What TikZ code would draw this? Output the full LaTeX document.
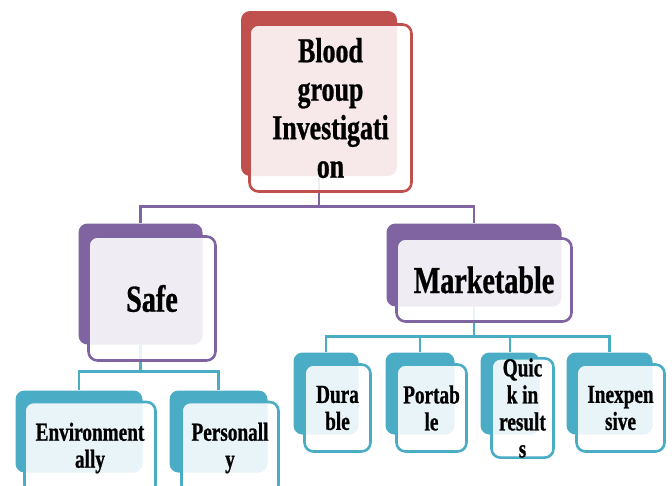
\documentclass[tikz,border=0pt]{standalone}
\usepackage{fontspec}
\setmainfont{Liberation Serif}
\newfontfamily\narrowfont[FakeStretch=0.74,FakeBold=0.8]{Liberation Serif}
\usetikzlibrary{positioning,calc}
\definecolor{hred}{HTML}{C0504D}
\definecolor{hpur}{HTML}{8064A2}
\definecolor{hteal}{HTML}{4BACC6}
\tikzset{
  backbox/.style={rectangle,rounded corners=9pt,inner sep=0pt},
  frontbox/.style={rectangle,rounded corners=9pt,draw,line width=2.6pt,fill=white,fill opacity=0.88,text opacity=1,align=center,inner sep=0pt},
  redback/.style={backbox,fill=hred},
  redfront/.style={frontbox,draw=hred},
  purback/.style={backbox,fill=hpur},
  purfront/.style={frontbox,draw=hpur},
  tealback/.style={backbox,fill=hteal},
  tealfront/.style={frontbox,draw=hteal},
  toptxt/.style={font=\narrowfont\bfseries\fontsize{35}{38.5}\selectfont},
  midtxt/.style={font=\narrowfont\bfseries\fontsize{38}{42}\selectfont},
  lowtxt/.style={font=\narrowfont\bfseries\fontsize{26}{27}\selectfont},
  purline/.style={draw=hpur,line width=2.6pt},
  tealline/.style={draw=hteal,line width=2.6pt}
}

\begin{document}
\begin{tikzpicture}[x=1pt,y=-1pt]
  \useasboundingbox (0,0) rectangle (672,485);
  % Back boxes
  \node[redback, minimum width=156pt, minimum height=165pt] (topB) at (319,93.5) {};
  \node[purback, minimum width=124pt, minimum height=121pt] (safeB) at (140.5,284) {};
  \node[purback, minimum width=175pt, minimum height=83pt] (marketB) at (474,265) {};
  \node[tealback, minimum width=127pt, minimum height=82pt] (envB) at (79,431.5) {};
  \node[tealback, minimum width=98pt, minimum height=82pt] (persB) at (218.5,431.5) {};
  \node[tealback, minimum width=65pt, minimum height=82pt] (duraB) at (326,393.5) {};
  \node[tealback, minimum width=69pt, minimum height=82pt] (portB) at (420,393.5) {};
  \node[tealback, minimum width=59pt, minimum height=82pt] (quickB) at (510,393.5) {};
  \node[tealback, minimum width=86pt, minimum height=82pt] (inexB) at (609.5,393.5) {};

  % Connectors
  \draw[purline] (topB.south) -- ++(0,30) -| (safeB.north);
  \draw[purline] (topB.south) -- ++(0,30) -| (marketB.north);
  \draw[tealline] (safeB.south) -- ++(0,27) -| (envB.north);
  \draw[tealline] (safeB.south) -- ++(0,27) -| (persB.north);
  \foreach \t in {duraB,portB,quickB,inexB}
    \draw[tealline] (marketB.south) -- ++(0,30) -| (\t.north);

  % Front boxes
  \node[redfront, toptxt, minimum width=162pt, minimum height=167pt] (top) at (330.5,108) {Blood\\group\\Investigati\\on};
  \node[purfront, midtxt, minimum width=127pt, minimum height=124pt] (safe) at (152,298.5) {Safe};
  \node[purfront, midtxt, minimum width=175pt, minimum height=83pt] (market) at (484,280) {Marketable};
  \node[tealfront, lowtxt, minimum width=131pt, minimum height=92pt] (env) at (90,448) {Environment\\ally};
  \node[tealfront, lowtxt, minimum width=97pt, minimum height=92pt] (pers) at (230,448) {Personall\\y};
  \node[tealfront, lowtxt, minimum width=66pt, minimum height=87pt] (dura) at (337.5,408) {Dura\\ble};
  \node[tealfront, lowtxt, minimum width=70pt, minimum height=87pt] (port) at (431.5,408) {Portab\\le};
  \node[tealfront, lowtxt, minimum width=62pt, minimum height=87pt] (quick) at (522.5,408) {Quic\\k in\\result\\s};
  \node[tealfront, lowtxt, minimum width=88pt, minimum height=87pt] (inex) at (620.5,408) {Inexpen\\sive};
\end{tikzpicture}
\end{document}
